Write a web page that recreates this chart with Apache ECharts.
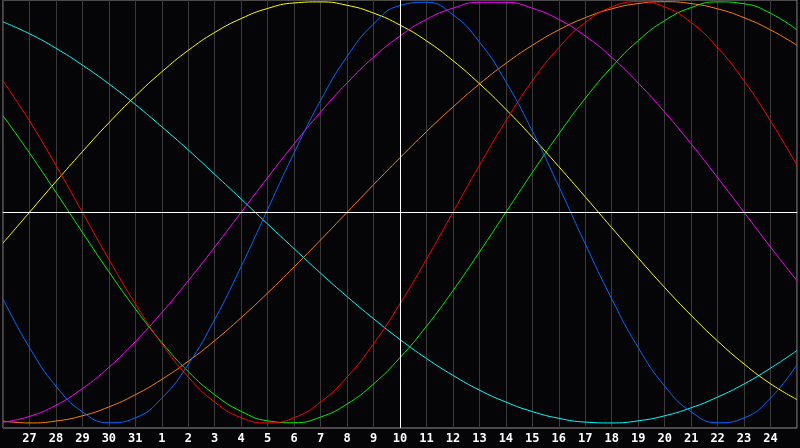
<!DOCTYPE html>
<html>
<head>
    <meta charset="utf-8"/>
    <title>Biorhythm</title>
    <script src="https://cdn.jsdelivr.net/npm/echarts@6/dist/echarts.min.js"></script>
    <style>
        html, body { margin: 0; padding: 0; background: #050507; }
        #chart { width: 800px; height: 448px; }
    </style>
</head>
<body>
<div id="chart"></div>
<script>
    // days shown, from the 26th of the last month to the 25th
    var days = ['26', '27', '28', '29', '30', '31', '1', '2', '3', '4', '5', '6', '7', '8', '9', '10',
        '11', '12', '13', '14', '15', '16', '17', '18', '19', '20', '21', '22', '23', '24', '25'];
    var today = '10';

    // values, one per day
    var blue = [-0.411, -0.642, -0.825, -0.947, -0.999, -0.976, -0.882, -0.722, -0.508, -0.257, 0.014,
        0.283, 0.531, 0.740, 0.894, 0.982, 0.997, 0.938, 0.809, 0.620, 0.386, 0.123, -0.150, -0.411,
        -0.642, -0.825, -0.947, -0.999, -0.976, -0.882, -0.722];
    var red = [0.624, 0.434, 0.223, 0, -0.223, -0.434, -0.624, -0.782, -0.901, -0.975, -1,
        -0.975, -0.901, -0.782, -0.624, -0.434, -0.223, 0, 0.223, 0.434, 0.624, 0.782, 0.901, 0.975,
        1, 0.975, 0.901, 0.782, 0.624, 0.434, 0.223];
    var green = [0.458, 0.282, 0.095, -0.095, -0.282, -0.458, -0.618, -0.756, -0.866, -0.945, -0.990,
        -0.999, -0.972, -0.910, -0.815, -0.690, -0.541, -0.372, -0.189, 0, 0.189, 0.372, 0.541, 0.690,
        0.815, 0.910, 0.972, 0.999, 0.990, 0.945, 0.866];
    var magenta = [-0.997, -0.969, -0.916, -0.837, -0.736, -0.614, -0.476, -0.325, -0.165, 0, 0.165,
        0.325, 0.476, 0.614, 0.736, 0.837, 0.916, 0.969, 0.997, 0.997, 0.969, 0.916, 0.837, 0.736,
        0.614, 0.476, 0.325, 0.165, 0, -0.165, -0.325];
    var yellow = [-0.146, 0, 0.146, 0.288, 0.425, 0.552, 0.667, 0.769, 0.854, 0.920, 0.968,
        0.994, 0.999, 0.983, 0.946, 0.889, 0.814, 0.720, 0.611, 0.489, 0.357, 0.217, 0.073, -0.073,
        -0.217, -0.357, -0.489, -0.611, -0.720, -0.814, -0.889];
    var orange = [-0.991, -1, -0.991, -0.966, -0.924, -0.866, -0.793, -0.707, -0.609, -0.5, -0.383,
        -0.259, -0.131, 0, 0.131, 0.259, 0.383, 0.5, 0.609, 0.707, 0.793, 0.866, 0.924, 0.966,
        0.991, 1, 0.991, 0.966, 0.924, 0.866, 0.793];
    var cyan = [0.904, 0.848, 0.779, 0.699, 0.610, 0.512, 0.406, 0.296, 0.180, 0.063, -0.056,
        -0.173, -0.289, -0.400, -0.505, -0.604, -0.694, -0.774, -0.844, -0.901, -0.946, -0.978,
        -0.996, -1.000, -0.990, -0.966, -0.928, -0.877, -0.815, -0.740, -0.656];

    var curves = [
        {data: cyan, color: '#00ffff'},
        {data: orange, color: '#ff8000'},
        {data: yellow, color: '#ffff00'},
        {data: magenta, color: '#ff00ff'},
        {data: green, color: '#00f000'},
        {data: red, color: '#ff0000'},
        {data: blue, color: '#0068ff'}
    ];

    var chart = echarts.init(document.getElementById('chart'));

    var series = [{
        // today / zero lines
        type: 'line',
        data: [],
        z: 1,
        markLine: {
            silent: true,
            symbol: 'none',
            label: {show: false},
            lineStyle: {color: '#ffffff', width: 1, type: 'solid'},
            data: [{xAxis: today}, {yAxis: 0}]
        }
    }];
    curves.forEach(function (c) {
        series.push({
            type: 'line',
            data: c.data,
            smooth: true,
            showSymbol: false,
            z: 2,
            lineStyle: {color: c.color, width: 1},
            itemStyle: {color: c.color}
        });
    });

    chart.setOption({
        backgroundColor: '#050507',
        animation: false,
        grid: {
            left: 0,
            right: 0,
            top: 0,
            bottom: 20,
            show: true,
            borderColor: '#909090',
            borderWidth: 1
        },
        xAxis: {
            type: 'category',
            boundaryGap: false,
            data: days,
            axisLine: {show: true, lineStyle: {color: '#a0a0a0'}},
            axisTick: {show: false},
            axisLabel: {
                interval: 0,
                margin: 5,
                color: '#ffffff',
                fontFamily: 'DejaVu Sans Mono',
                fontWeight: 'bold',
                fontSize: 12,
                formatter: function (v, i) {
                    return (i === 0 || i === days.length - 1) ? '' : v;
                }
            },
            splitLine: {show: true, interval: 0, lineStyle: {color: '#3a3a3a', width: 1}}
        },
        yAxis: {
            type: 'value',
            min: -1.024,
            max: 1.008,
            axisLine: {show: false},
            axisTick: {show: false},
            axisLabel: {show: false},
            splitLine: {show: false}
        },
        series: series
    });
</script>
</body>
</html>
